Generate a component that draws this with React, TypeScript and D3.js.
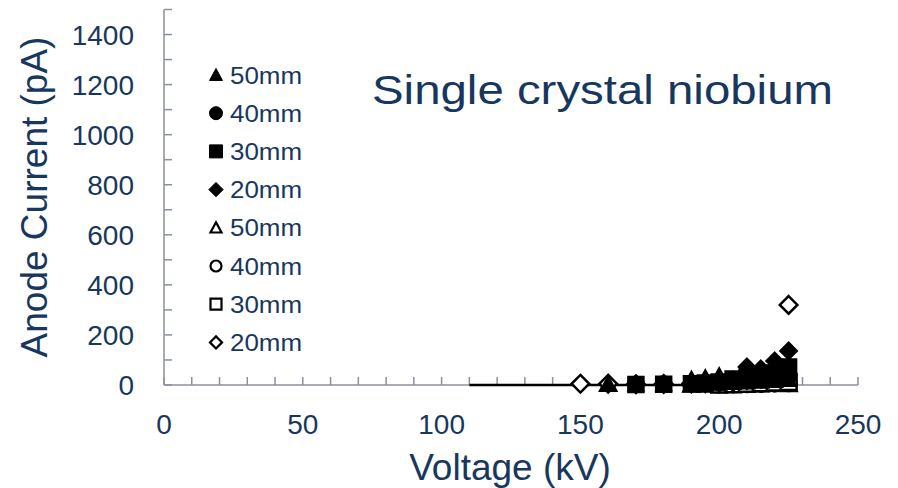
import React from "react";
import * as d3 from "d3";

const voltages = [150, 160, 170, 180, 190, 195, 200, 205, 210, 215, 220, 225];
const filledTri50 = [null, 5, 4, 5, 24, 30, 38, 10, 12, 15, 18, 22];
const filledCirc40 = [null, null, 3, 4, 6, 8, 10, 14, 18, 22, 28, 34];
const filledSq30 = [null, null, 2, 3, 5, 8, 12, 24, 30, 35, 48, 72];
const filledDia20 = [null, null, 2, 4, 8, 12, 15, 20, 72, 64, 96, 136];
const openTri50 = [null, 4, null, null, 1, 1, 2, 2, 3, 3, 4, 3];
const openCirc40 = [null, null, null, null, null, null, 2, 3, 4, 5, 6, 8];
const openSq30 = [null, null, null, null, null, null, 2, 3, 5, 7, 10, 12];
const openDia20 = [5, 5, 3, 4, 6, 7, 10, 12, 20, 25, 30, 320];
const lineX = [110, 225];
const lineY = [0, 0];

const yTickLabels = [0, 200, 400, 600, 800, 1000, 1200, 1400];
const xTickLabels = [0, 50, 100, 150, 200, 250];

type Shape = "tri" | "circ" | "sq" | "dia";
const seriesList: { name: string; shape: Shape; filled: boolean; values: (number | null)[] }[] = [
  { name: "50mm", shape: "tri", filled: true, values: filledTri50 },
  { name: "40mm", shape: "circ", filled: true, values: filledCirc40 },
  { name: "30mm", shape: "sq", filled: true, values: filledSq30 },
  { name: "20mm", shape: "dia", filled: true, values: filledDia20 },
  { name: "50mm", shape: "tri", filled: false, values: openTri50 },
  { name: "40mm", shape: "circ", filled: false, values: openCirc40 },
  { name: "30mm", shape: "sq", filled: false, values: openSq30 },
  { name: "20mm", shape: "dia", filled: false, values: openDia20 },
];

function markerPath(shape: Shape, s: number): string {
  const h = s / 2;
  switch (shape) {
    case "tri":
      return `M0,${-h}L${h},${h * 0.85}L${-h},${h * 0.85}Z`;
    case "circ":
      return `M${h},0A${h},${h} 0 1,1 ${-h},0A${h},${h} 0 1,1 ${h},0Z`;
    case "sq":
      return `M${-h},${-h}H${h}V${h}H${-h}Z`;
    case "dia":
      return `M0,${-h * 1.1}L${h * 1.1},0L0,${h * 1.1}L${-h * 1.1},0Z`;
  }
}

const TEXT = "#17375E";
const AXIS = "#8b8fa3";
const FONT = "'Liberation Sans', Arial, sans-serif";

export default function App() {
  const W = 898;
  const H = 488;
  const x = d3.scaleLinear().domain([0, 250]).range([164, 858]);
  const y = d3.scaleLinear().domain([0, 1500]).range([385, 9.5]);
  const xMinor = d3.range(0, 251, 10);
  const yMinor = d3.range(0, 1501, 100);
  const line = d3
    .line<number>()
    .x((d) => x(lineX[d]))
    .y((d) => y(lineY[d]));

  // open markers underneath, filled ones on top (as in the reference)
  const drawOrder = [...seriesList.filter((s) => !s.filled), ...seriesList.filter((s) => s.filled)];

  return (
    <svg width={W} height={H} style={{ position: "absolute", left: 0, top: 0, background: "#fff" }}>
      {/* axes */}
      <line x1={x(0)} x2={x(0)} y1={y(1500)} y2={y(0)} stroke={AXIS} strokeWidth={1.5} />
      <line x1={x(0)} x2={x(250)} y1={y(0)} y2={y(0)} stroke={AXIS} strokeWidth={1.5} />
      {yMinor.map((v) => (
        <line key={"yt" + v} x1={x(0)} x2={x(0) + 8} y1={y(v)} y2={y(v)} stroke={AXIS} strokeWidth={1.5} />
      ))}
      {xMinor.map((v) => (
        <line key={"xt" + v} x1={x(v)} x2={x(v)} y1={y(0)} y2={y(0) - 8} stroke={AXIS} strokeWidth={1.5} />
      ))}
      {yTickLabels.map((v) => (
        <text key={"yl" + v} x={134} y={y(v)} dy="0.36em" textAnchor="end" fontFamily={FONT} fontSize={28} fill={TEXT}>
          {v}
        </text>
      ))}
      {xTickLabels.map((v) => (
        <text key={"xl" + v} x={x(v)} y={434} textAnchor="middle" fontFamily={FONT} fontSize={28} fill={TEXT}>
          {v}
        </text>
      ))}
      <text x={510} y={480} textAnchor="middle" fontFamily={FONT} fontSize={37} fill={TEXT}>
        Voltage (kV)
      </text>
      <text
        transform={`translate(47,197) rotate(-90)`}
        textAnchor="middle"
        fontFamily={FONT}
        fontSize={37}
        fill={TEXT}
      >
        Anode Current (pA)
      </text>
      <text x={372} y={104} fontFamily={FONT} fontSize={41} fill={TEXT} textLength={461} lengthAdjust="spacingAndGlyphs">
        Single crystal niobium
      </text>

      {/* line */}
      <path d={line(d3.range(lineX.length)) || ""} stroke="#000" strokeWidth={2.5} fill="none" />

      {/* markers */}
      {drawOrder.map((s, si) => (
        <g key={"s" + si}>
          {s.values.map((v, i) =>
            v === null ? null : (
              <path
                key={i}
                d={markerPath(s.shape, 16)}
                transform={`translate(${x(voltages[i])},${y(v)})`}
                fill={s.filled ? "#000" : "#fff"}
                stroke="#000"
                strokeWidth={s.filled ? 1.5 : 2.5}
              />
            )
          )}
        </g>
      ))}

      {/* legend */}
      {seriesList.map((s, i) => {
        const cy = 75 + i * 38.2;
        return (
          <g key={"lg" + i}>
            <path
              d={markerPath(s.shape, s.filled ? 13 : 11)}
              transform={`translate(216,${cy})`}
              fill={s.filled ? "#000" : "#fff"}
              stroke="#000"
              strokeWidth={s.filled ? 1 : 2.2}
            />
            <text x={230} y={cy} dy="0.36em" fontFamily={FONT} fontSize={24} fill={TEXT} textLength={72} lengthAdjust="spacingAndGlyphs">
              {s.name}
            </text>
          </g>
        );
      })}
    </svg>
  );
}
